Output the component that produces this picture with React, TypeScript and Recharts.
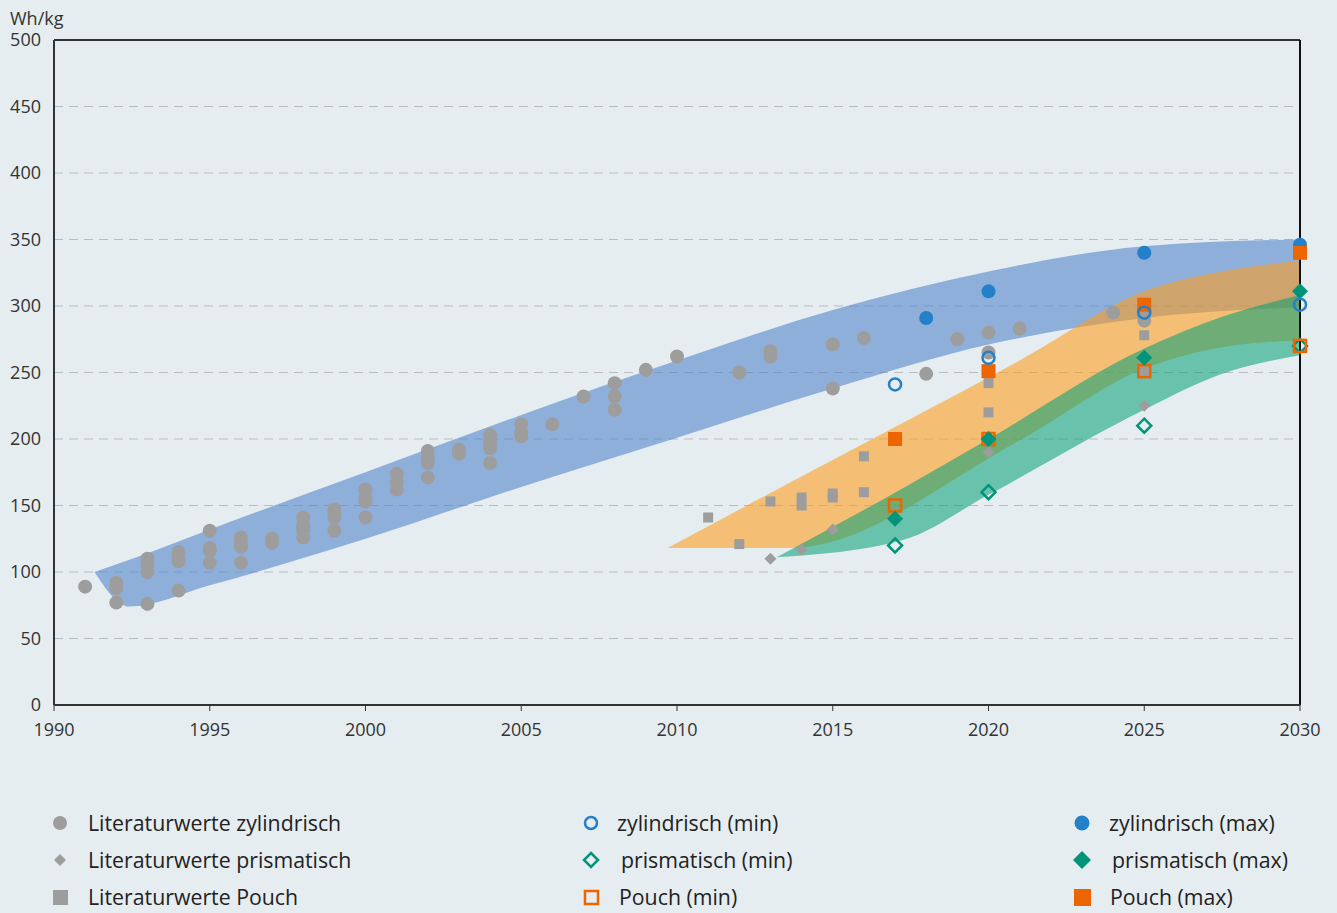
import {
  ComposedChart,
  Area,
  Scatter,
  XAxis,
  YAxis,
  CartesianGrid,
  ReferenceLine,
} from 'recharts';

const BG = '#e6edf0';
const AXIS = '#333333';
const GRAY = '#9d9d9d';
const BLUE = '#2480c8';
const ORANGE = '#ec6500';
const GREEN = '#00957a';
const FONT = '"Open Sans", "Noto Sans", sans-serif';

const yearTicks = [1990, 1995, 2000, 2005, 2010, 2015, 2020, 2025, 2030];
const valueTicks = [0, 50, 100, 150, 200, 250, 300, 350, 400, 450, 500];

// Bandbreiten (Prognose-Korridore)
const zylBandYears = [1991.3, 1992.4, 1995, 2000, 2005, 2010, 2015, 2020, 2025, 2030];
const zylBandLow = [100, 74, 90, 125, 164, 201, 238, 271, 291, 299];
const zylBandHigh = [100, 109, 132, 175, 218, 259, 297, 326, 345, 350];

const pouchBandYears = [2009.7, 2013.6, 2021, 2025, 2027.75, 2030];
const pouchBandLow = [118, 118, 199, 253, 270, 274];
const pouchBandHigh = [118, 167, 259, 311, 327, 334];

const prismBandYears = [2013.2, 2017.25, 2020, 2025, 2027.5, 2030];
const prismBandLow = [111, 124, 158, 222, 249, 263];
const prismBandHigh = [111, 163, 200, 268, 292, 308];

// Literaturwerte
const litZylYears = [
  1991, 1992, 1992, 1992, 1993, 1993, 1993, 1993, 1994, 1994, 1994, 1994,
  1995, 1995, 1995, 1995, 1996, 1996, 1996, 1996, 1997, 1997,
  1998, 1998, 1998, 1998, 1999, 1999, 1999, 1999, 2000, 2000, 2000, 2000,
  2001, 2001, 2001, 2002, 2002, 2002, 2002, 2003, 2003, 2004, 2004, 2004, 2004,
  2005, 2005, 2005, 2006, 2007, 2008, 2008, 2008, 2009, 2010, 2012, 2013, 2013,
  2015, 2015, 2016, 2018, 2019, 2020, 2020, 2021, 2024, 2025, 2025,
];
const litZylValues = [
  89, 92, 88, 77, 110, 106, 100, 76, 115, 110, 108, 86,
  131, 118, 116, 107, 126, 122, 119, 107, 125, 122,
  141, 135, 132, 126, 147, 143, 141, 131, 162, 156, 153, 141,
  174, 168, 162, 191, 186, 182, 171, 192, 189, 203, 198, 193, 182,
  211, 205, 202, 211, 232, 242, 232, 222, 252, 262, 250, 266, 262,
  271, 238, 276, 249, 275, 280, 265, 283, 295, 289, 297,
];

const litPrismYears = [2013, 2014, 2015, 2020, 2025];
const litPrismValues = [110, 117, 132, 190, 225];

const litPouchYears = [2011, 2012, 2013, 2014, 2014, 2015, 2015, 2016, 2016, 2020, 2020, 2025, 2025];
const litPouchValues = [141, 121, 153, 156, 150, 159, 156, 187, 160, 242, 220, 278, 251];

// Zielwerte
const targetYears = [2017, 2020, 2025, 2030];
const zylMinValues = [241, 261, 295, 301];
const zylMaxYears = [2018, 2020, 2025, 2030];
const zylMaxValues = [291, 311, 340, 346];
const prismMinValues = [120, 160, 210, 270];
const prismMaxValues = [140, 200, 261, 311];
const pouchMinValues = [150, 200, 251, 270];
const pouchMaxValues = [200, 251, 301, 340];

const band = (xs: number[], lo: number[], hi: number[]) =>
  xs.map((x, i) => ({ x, range: [lo[i], hi[i]] }));
const points = (xs: number[], ys: number[]) => xs.map((x, i) => ({ x, y: ys[i] }));

const GrayCircle = (p: any) => <circle cx={p.cx} cy={p.cy} r={7} fill={GRAY} />;
const GrayDiamond = (p: any) => (
  <polygon points={`${p.cx},${p.cy - 6} ${p.cx + 6},${p.cy} ${p.cx},${p.cy + 6} ${p.cx - 6},${p.cy}`} fill={GRAY} />
);
const GraySquare = (p: any) => <rect x={p.cx - 5} y={p.cy - 5} width={10} height={10} fill={GRAY} />;
const BlueDot = (p: any) => <circle cx={p.cx} cy={p.cy} r={7} fill={BLUE} />;
const BlueRing = (p: any) => <circle cx={p.cx} cy={p.cy} r={6} fill="none" stroke={BLUE} strokeWidth={2.5} />;
const GreenDiamond = (p: any) => (
  <polygon points={`${p.cx},${p.cy - 8} ${p.cx + 8},${p.cy} ${p.cx},${p.cy + 8} ${p.cx - 8},${p.cy}`} fill={GREEN} />
);
const GreenDiamondOpen = (p: any) => (
  <polygon
    points={`${p.cx},${p.cy - 7} ${p.cx + 7},${p.cy} ${p.cx},${p.cy + 7} ${p.cx - 7},${p.cy}`}
    fill="none"
    stroke={GREEN}
    strokeWidth={2.5}
  />
);
const OrangeSquare = (p: any) => <rect x={p.cx - 7} y={p.cy - 7} width={14} height={14} fill={ORANGE} />;
const OrangeSquareOpen = (p: any) => (
  <rect x={p.cx - 6} y={p.cy - 6} width={12} height={12} fill="none" stroke={ORANGE} strokeWidth={2.5} />
);

const legendRows = [
  [
    { label: 'Literaturwerte zylindrisch', icon: <circle cx={10} cy={10} r={7} fill={GRAY} />, mx: 60, tx: 88 },
    { label: 'zylindrisch (min)', icon: <circle cx={10} cy={10} r={6} fill="none" stroke={BLUE} strokeWidth={2.5} />, mx: 591, tx: 617 },
    { label: 'zylindrisch (max)', icon: <circle cx={10} cy={10} r={7.5} fill={BLUE} />, mx: 1082, tx: 1109 },
  ],
  [
    { label: 'Literaturwerte prismatisch', icon: <polygon points="10,4 16,10 10,16 4,10" fill={GRAY} />, mx: 60, tx: 88 },
    { label: 'prismatisch (min)', icon: <polygon points="10,3 17,10 10,17 3,10" fill="none" stroke={GREEN} strokeWidth={2.5} />, mx: 591, tx: 621 },
    { label: 'prismatisch (max)', icon: <polygon points="10,1 19,10 10,19 1,10" fill={GREEN} />, mx: 1082, tx: 1112 },
  ],
  [
    { label: 'Literaturwerte Pouch', icon: <rect x={3} y={3} width={15} height={15} fill={GRAY} />, mx: 60, tx: 88 },
    { label: 'Pouch (min)', icon: <rect x={4} y={4} width={13} height={13} fill="none" stroke={ORANGE} strokeWidth={2.5} />, mx: 591, tx: 619 },
    { label: 'Pouch (max)', icon: <rect x={2} y={2} width={17} height={17} fill={ORANGE} />, mx: 1082, tx: 1110 },
  ],
];
const legendRowY = [823, 860, 897];

export default function App() {
  return (
    <div style={{ position: 'absolute', left: 0, top: 0, width: 1337, height: 913, background: BG, fontFamily: FONT, overflow: 'hidden' }}>
      <div style={{ position: 'absolute', left: 10, top: 6, fontSize: 18, color: AXIS, lineHeight: '24px' }}>Wh/kg</div>
      <ComposedChart width={1337} height={760} margin={{ top: 40, right: 37, bottom: 0, left: 0 }}>
        <CartesianGrid horizontal vertical={false} stroke="#b8bdc1" strokeDasharray="9 6" strokeWidth={1.2} />
        <XAxis
          dataKey="x"
          type="number"
          domain={[1990, 2030]}
          ticks={yearTicks}
          height={55}
          axisLine={{ stroke: AXIS, strokeWidth: 2 }}
          tickLine={{ stroke: AXIS, strokeWidth: 1 }}
          tickSize={6}
          tickMargin={12}
          tick={{ fill: AXIS, fontSize: 18, fontFamily: FONT }}
        />
        <YAxis
          dataKey="y"
          type="number"
          domain={[0, 500]}
          ticks={valueTicks}
          width={54}
          axisLine={{ stroke: AXIS, strokeWidth: 2 }}
          tickLine={false}
          tickSize={0}
          tickMargin={13}
          tick={{ fill: AXIS, fontSize: 18, fontFamily: FONT }}
        />
        <Area
          data={band(zylBandYears, zylBandLow, zylBandHigh)}
          dataKey="range"
          type="monotone"
          fill="rgb(71,124,203)"
          fillOpacity={0.55}
          stroke="none"
          isAnimationActive={false}
          activeDot={false}
        />
        <Area
          data={band(pouchBandYears, pouchBandLow, pouchBandHigh)}
          dataKey="range"
          type="monotone"
          fill="rgb(255,155,22)"
          fillOpacity={0.56}
          stroke="none"
          isAnimationActive={false}
          activeDot={false}
        />
        <Area
          data={band(prismBandYears, prismBandLow, prismBandHigh)}
          dataKey="range"
          type="monotone"
          fill="rgb(0,158,117)"
          fillOpacity={0.55}
          stroke="none"
          isAnimationActive={false}
          activeDot={false}
        />
        <ReferenceLine y={500} stroke={AXIS} strokeWidth={2} />
        <ReferenceLine x={2030} stroke="#111" strokeWidth={2} />
        <Scatter data={points(litZylYears, litZylValues)} shape={GrayCircle} isAnimationActive={false} />
        <Scatter data={points(litPrismYears, litPrismValues)} shape={GrayDiamond} isAnimationActive={false} />
        <Scatter data={points(litPouchYears, litPouchValues)} shape={GraySquare} isAnimationActive={false} />
        <Scatter data={points(zylMaxYears, zylMaxValues)} shape={BlueDot} isAnimationActive={false} />
        <Scatter data={points(targetYears, pouchMaxValues)} shape={OrangeSquare} isAnimationActive={false} />
        <Scatter data={points(targetYears, prismMinValues)} shape={GreenDiamondOpen} isAnimationActive={false} />
        <Scatter data={points(targetYears, pouchMinValues)} shape={OrangeSquareOpen} isAnimationActive={false} />
        <Scatter data={points(targetYears, prismMaxValues)} shape={GreenDiamond} isAnimationActive={false} />
        <Scatter data={points(targetYears, zylMinValues)} shape={BlueRing} isAnimationActive={false} />
      </ComposedChart>
      {legendRows.map((row, r) =>
        row.map((item) => (
          <div key={item.label}>
            <svg
              width={20}
              height={20}
              style={{ position: 'absolute', left: item.mx - 10, top: legendRowY[r] - 10, overflow: 'visible' }}
            >
              {item.icon}
            </svg>
            <div
              style={{
                position: 'absolute',
                left: item.tx,
                top: legendRowY[r] - 14,
                fontSize: 21.3,
                lineHeight: '28px',
                color: '#222',
                whiteSpace: 'nowrap',
              }}
            >
              {item.label}
            </div>
          </div>
        ))
      )}
    </div>
  );
}
